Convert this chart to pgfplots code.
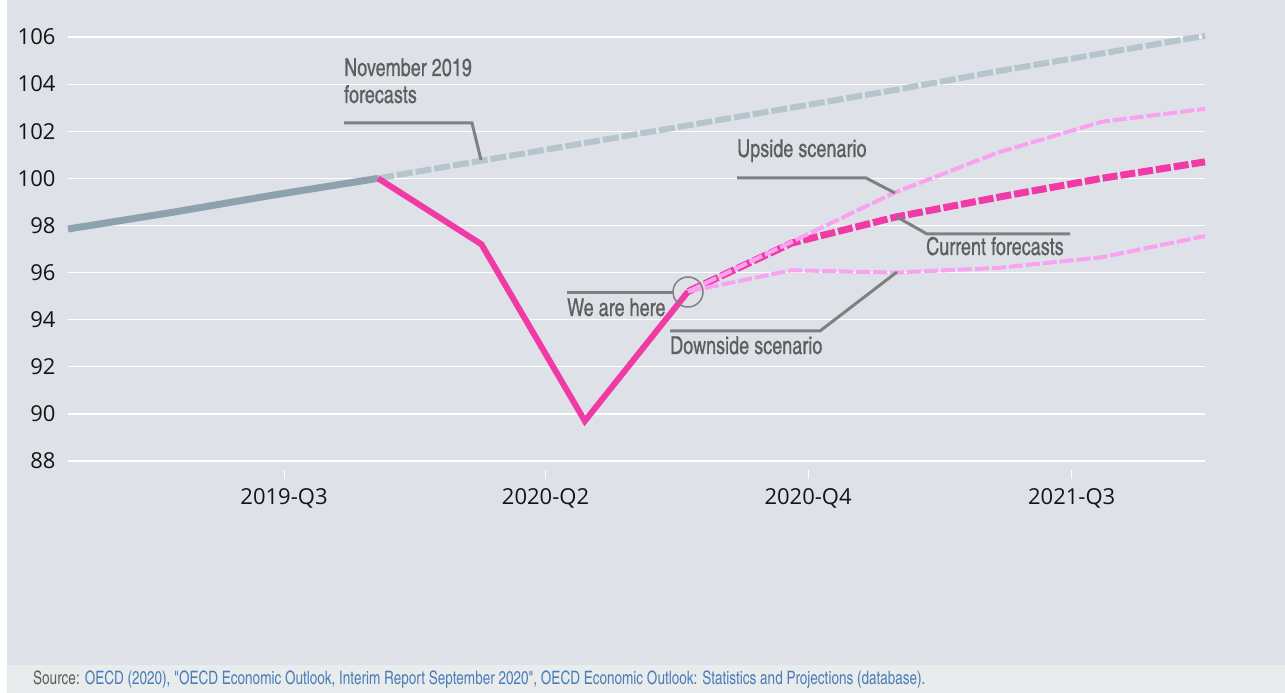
\documentclass[border=0pt]{standalone}
\usepackage{fontspec}
\setmainfont{Open Sans}
\newfontfamily\cond[FakeBold=0.6]{texgyreheroscn-regular.otf}
\newfontfamily\condsrc{texgyreheroscn-regular.otf}
\usepackage{graphicx}
\usepackage{pgfplots}
\pgfplotsset{compat=1.18}

\definecolor{bg}{HTML}{DEE2E8}
\definecolor{band}{HTML}{E9ECEC}
\definecolor{histgray}{HTML}{8EA2AE}
\definecolor{novgray}{HTML}{B6C4CD}
\definecolor{hotpink}{HTML}{F23AA7}
\definecolor{lightpink}{HTML}{F8A2F1}
\definecolor{leader}{HTML}{808080}
\definecolor{anntext}{HTML}{5E5E5E}
\definecolor{srcblue}{HTML}{4C7DB8}

\newcommand\ann[1]{\scalebox{1}[1.12]{\cond\fontsize{22}{26}\selectfont #1}}

\begin{document}
\begin{tikzpicture}
% page background
\fill[bg] (0,0) rectangle (1285pt,693pt);
\fill[white] (0,0) rectangle (7pt,693pt);
\fill[band] (7pt,0) rectangle (1285pt,28pt);

\begin{axis}[
  at={(68pt,223pt)}, anchor=south west,
  scale only axis, width=1137pt, height=433pt,
  xmin=0, xmax=11, ymin=87.62, ymax=106,
  axis line style={draw=none},
  ytick={88,90,...,106},
  ymajorgrids, grid style={white, line width=1.2pt},
  xtick={2.09,4.62,7.16,9.71},
  xticklabels={2019-Q3,2020-Q2,2020-Q4,2021-Q3},
  tick pos=left, tick align=outside, major tick length=9pt,
  xtick style={white, line width=1pt},
  ytick style={draw=none},
  ticklabel style={font=\fontsize{22}{26}\selectfont, text=black!92},
  xticklabel style={yshift=-6pt},
  /pgf/number format/assume math mode=true,
  clip=false,
]
% history
\addplot[histgray, line width=7pt, line cap=butt] coordinates {
  (0,97.85) (1,98.55) (2,99.30) (3,100.00)
};
% November 2019 forecasts
\addplot[novgray, line width=6pt, dash pattern=on 16pt off 3pt] coordinates {
  (3,100.00) (4,100.75) (5,101.50) (6,102.25) (7,103.00)
  (8,103.75) (9,104.55) (10,105.30) (11,106.05)
};
% actual
\addplot[hotpink, line width=6pt] coordinates {
  (3,100.00) (4,97.20) (5,89.70) (6,95.20)
};
% current forecasts
\addplot[hotpink, line width=7pt, dash pattern=on 15pt off 3pt] coordinates {
  (6,95.20) (7,97.25) (8,98.35) (9,99.20) (10,100.00) (11,100.70)
};
% upside scenario
\addplot[lightpink, line width=4pt, dash pattern=on 14pt off 3pt] coordinates {
  (6,95.20) (7,97.30) (8,99.40) (9,101.10) (10,102.40) (11,102.95)
};
% downside scenario
\addplot[lightpink, line width=4pt, dash pattern=on 14pt off 3pt] coordinates {
  (6,95.20) (7,96.10) (8,96.00) (9,96.20) (10,96.65) (11,97.55)
};
\end{axis}

% annotations, in pixel units measured from the top left
\begin{scope}[x=1pt, y=-1pt, yshift=693pt]
  \draw[leader, line width=3pt] (344,123) -- (472,123) -- (481,160);
  \node[anchor=base west, inner sep=0, text=anntext] at (344,76) {\ann{November 2019}};
  \node[anchor=base west, inner sep=0, text=anntext] at (344,103) {\ann{forecasts}};

  \draw[leader, line width=3pt] (737,178) -- (866,178) -- (895,193);
  \node[anchor=base west, inner sep=0, text=anntext] at (737,157) {\ann{Upside scenario}};

  \draw[leader, line width=3pt] (1070,234) -- (927,234) -- (897,217);
  \node[anchor=base west, inner sep=0, text=anntext] at (926,255) {\ann{Current forecasts}};

  \draw[leader, line width=3pt] (567,293) -- (673,293);
  \draw[leader, line width=1.5pt] (688,292) circle[radius=15];
  \node[anchor=base west, inner sep=0, text=anntext] at (567,316) {\ann{We are here}};

  \draw[leader, line width=3pt] (670,331) -- (820,331) -- (897,272);
  \node[anchor=base west, inner sep=0, text=anntext] at (670,354) {\ann{Downside scenario}};

  \node[anchor=base west, inner sep=0] at (33,685) {\scalebox{1}[1.12]{\condsrc\fontsize{16.5}{19}\selectfont
    \textcolor{anntext}{Source:} \textcolor{srcblue}{OECD (2020), "OECD Economic Outlook, Interim Report September 2020", OECD Economic Outlook: Statistics and Projections (database).}}};
\end{scope}
\end{tikzpicture}
\end{document}
